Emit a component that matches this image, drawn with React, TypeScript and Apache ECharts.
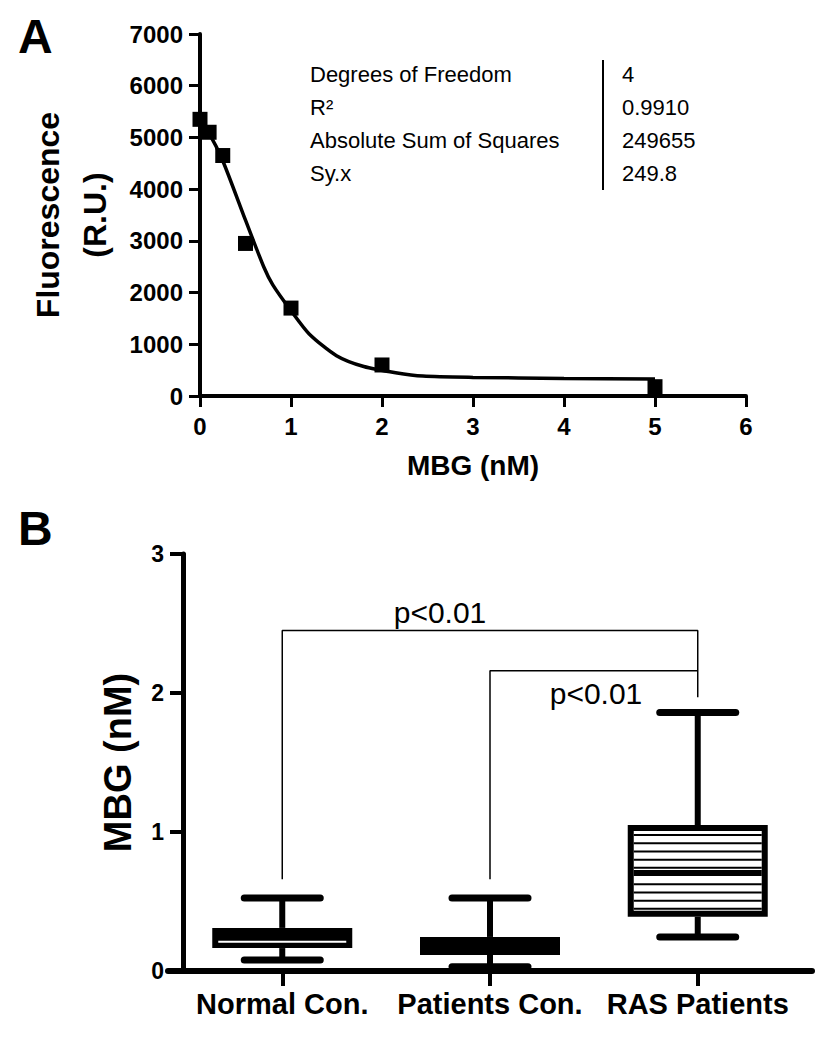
import React, { useEffect, useRef } from "react";
import * as echarts from "echarts";

// ---------- Panel A data ----------
const doseX = [0, 0.1, 0.25, 0.5, 1, 2, 5];
const fluorescence = [5350, 5100, 4650, 2950, 1700, 600, 180];
const fitX = [0, 0.1, 0.25, 0.5, 0.7, 0.8, 1.0, 1.2, 1.5, 1.8, 2.15, 2.45, 3.0, 4.0, 5.0];
const fitY = [5300, 5080, 4550, 3400, 2500, 2150, 1650, 1200, 780, 570, 450, 385, 360, 340, 330];
const statLabels = ["Degrees of Freedom", "R\u00B2", "Absolute Sum of Squares", "Sy.x"];
const statValues = ["4", "0.9910", "249655", "249.8"];

// ---------- Panel B data ----------
const groups = ["Normal Con.", "Patients Con.", "RAS Patients"];
const boxMin = [0.08, 0.03, 0.245];
const boxQ1 = [0.165, 0.115, 0.39];
const boxMedian = [0.21, 0.17, 0.705];
const boxQ3 = [0.31, 0.245, 1.05];
const boxMax = [0.525, 0.525, 1.86];
const bracket1X = [0, 0, 2, 2];
const bracket1Y = [0.66, 2.45, 2.45, 1.97];
const bracket2X = [1, 1, 2];
const bracket2Y = [0.66, 2.16, 2.16];
const pLabel = "p<0.01";

const BOX_KINDS = ["solidMedian", "solid", "hatched"];
const FONT = '"Liberation Sans", Arial, Helvetica, sans-serif';

export default function App() {
  const ref = useRef<HTMLDivElement>(null);

  useEffect(() => {
    if (!ref.current) return;
    const chart = echarts.init(ref.current, undefined, { renderer: "svg" });

    const BOX_W = 140;
    const CAP_W = 76;

    const boxData = groups.map((_, i) => [i, boxMin[i], boxQ1[i], boxMedian[i], boxQ3[i], boxMax[i]]);

    const renderBox = (params: any, api: any) => {
      const x = api.value(0);
      const cx = api.coord([x, api.value(1)])[0];
      const yMin = api.coord([x, api.value(1)])[1];
      const yQ1 = api.coord([x, api.value(2)])[1];
      const yMed = api.coord([x, api.value(3)])[1];
      const yQ3 = api.coord([x, api.value(4)])[1];
      const yMax = api.coord([x, api.value(5)])[1];
      const kind = BOX_KINDS[params.dataIndex];
      const half = BOX_W / 2;
      const capHalf = CAP_W / 2;
      const children: any[] = [];
      const blk = { stroke: "#000", lineWidth: 6 };
      children.push({ type: "line", shape: { x1: cx, y1: yMax, x2: cx, y2: yQ3 }, style: blk });
      children.push({ type: "line", shape: { x1: cx, y1: yQ1, x2: cx, y2: yMin }, style: blk });
      children.push({
        type: "line",
        shape: { x1: cx - capHalf, y1: yMax, x2: cx + capHalf, y2: yMax },
        style: { stroke: "#000", lineWidth: 7, lineCap: "round" },
      });
      children.push({
        type: "line",
        shape: { x1: cx - capHalf, y1: yMin, x2: cx + capHalf, y2: yMin },
        style: { stroke: "#000", lineWidth: 7, lineCap: "round" },
      });
      if (kind === "hatched") {
        children.push({
          type: "rect",
          shape: { x: cx - half + 3, y: yQ3 + 3, width: BOX_W - 6, height: yQ1 - yQ3 - 6 },
          style: { fill: "#fff", stroke: "#000", lineWidth: 6 },
        });
        for (let y = yQ3 + 10; y < yQ1 - 7; y += 8.2) {
          if (Math.abs(y - yMed) < 5) continue;
          children.push({
            type: "line",
            shape: { x1: cx - half + 6, y1: y, x2: cx + half - 6, y2: y },
            style: { stroke: "#000", lineWidth: 2 },
          });
        }
        children.push({
          type: "line",
          shape: { x1: cx - half + 6, y1: yMed, x2: cx + half - 6, y2: yMed },
          style: { stroke: "#000", lineWidth: 6 },
        });
      } else {
        children.push({
          type: "rect",
          shape: { x: cx - half, y: yQ3, width: BOX_W, height: yQ1 - yQ3 },
          style: { fill: "#000" },
        });
        if (kind === "solidMedian") {
          children.push({
            type: "line",
            shape: { x1: cx - half + 6, y1: yMed, x2: cx + half - 6, y2: yMed },
            style: { stroke: "#fff", lineWidth: 2 },
          });
        }
      }
      return { type: "group", children };
    };

    const option: any = {
      animation: false,
      backgroundColor: "#fff",
      grid: [
        { left: 200, top: 34, width: 546, height: 362 },
        { left: 168, top: 554, width: 644, height: 417 },
      ],
      xAxis: [
        {
          type: "value",
          gridIndex: 0,
          min: 0,
          max: 6,
          interval: 1,
          name: "MBG (nM)",
          nameLocation: "middle",
          nameGap: 55,
          nameTextStyle: { fontFamily: FONT, fontWeight: "bold", fontSize: 28, color: "#000" },
          axisLine: { show: true, onZero: false, lineStyle: { color: "#000", width: 4 } },
          axisTick: { show: true, length: 11, lineStyle: { color: "#000", width: 3 } },
          axisLabel: { margin: 18, fontFamily: FONT, fontWeight: "bold", fontSize: 24, color: "#000" },
          splitLine: { show: false },
        },
        {
          type: "value",
          gridIndex: 1,
          min: -0.55,
          max: 2.55,
          axisLine: { show: true, onZero: false, lineStyle: { color: "#000", width: 6 } },
          axisTick: { show: true, length: 15, customValues: [0, 1, 2], lineStyle: { color: "#000", width: 4 } },
          axisLabel: {
            margin: 18,
            customValues: [0, 1, 2],
            formatter: (v: number) => groups[Math.round(v)] ?? "",
            fontFamily: FONT,
            fontWeight: "bold",
            fontSize: 29,
            color: "#000",
          },
          splitLine: { show: false },
        },
      ],
      yAxis: [
        {
          type: "value",
          gridIndex: 0,
          min: 0,
          max: 7000,
          interval: 1000,
          name: "Fluorescence\n(R.U.)",
          nameLocation: "middle",
          nameRotate: 90,
          nameGap: 71,
          nameTextStyle: { fontFamily: FONT, fontWeight: "bold", fontSize: 32, lineHeight: 47, color: "#000" },
          axisLine: { show: true, onZero: false, lineStyle: { color: "#000", width: 4 } },
          axisTick: { show: true, length: 11, lineStyle: { color: "#000", width: 3 } },
          axisLabel: {
            margin: 17,
            formatter: (v: number) => String(v),
            fontFamily: FONT,
            fontWeight: "bold",
            fontSize: 24,
            color: "#000",
          },
          splitLine: { show: false },
        },
        {
          type: "value",
          gridIndex: 1,
          min: 0,
          max: 3,
          interval: 1,
          offset: -15,
          name: "MBG (nM)",
          nameLocation: "middle",
          nameRotate: 90,
          nameGap: 46,
          nameTextStyle: { fontFamily: FONT, fontWeight: "bold", fontSize: 38, color: "#000" },
          axisLine: { show: true, onZero: false, lineStyle: { color: "#000", width: 5 } },
          axisTick: { show: true, length: 13, lineStyle: { color: "#000", width: 4 } },
          axisLabel: {
            margin: 19,
            fontFamily: '"Liberation Sans Narrow", "Liberation Sans", Arial, sans-serif',
            fontWeight: "bold",
            fontSize: 23,
            color: "#000",
          },
          splitLine: { show: false },
        },
      ],
      series: [
        {
          type: "line",
          xAxisIndex: 0,
          yAxisIndex: 0,
          data: fitX.map((x, i) => [x, fitY[i]]),
          showSymbol: false,
          symbol: "none",
          smooth: 0.25,
          lineStyle: { color: "#000", width: 3.5 },
          z: 3,
        },
        {
          type: "scatter",
          xAxisIndex: 0,
          yAxisIndex: 0,
          data: doseX.map((x, i) => [x, fluorescence[i]]),
          symbol: "rect",
          symbolSize: 15,
          itemStyle: { color: "#000", opacity: 1 },
          z: 4,
        },
        {
          type: "line",
          xAxisIndex: 1,
          yAxisIndex: 1,
          data: bracket1X.map((x, i) => [x, bracket1Y[i]]),
          symbol: "none",
          lineStyle: { color: "#000", width: 1.5 },
          z: 2,
        },
        {
          type: "line",
          xAxisIndex: 1,
          yAxisIndex: 1,
          data: bracket2X.map((x, i) => [x, bracket2Y[i]]),
          symbol: "none",
          lineStyle: { color: "#000", width: 1.5 },
          z: 2,
        },
        {
          type: "custom",
          xAxisIndex: 1,
          yAxisIndex: 1,
          data: boxData,
          encode: { x: 0, y: [1, 2, 3, 4, 5] },
          renderItem: renderBox,
          z: 5,
        },
      ],
      graphic: [
        { type: "text", x: 18, y: 36, style: { text: "A", font: `bold 48px ${FONT}`, fill: "#000", textVerticalAlign: "middle" } },
        { type: "text", x: 18, y: 528, style: { text: "B", font: `bold 48px ${FONT}`, fill: "#000", textVerticalAlign: "middle" } },
        ...statLabels.map((t, i) => ({
          type: "text",
          x: 310,
          y: 74 + i * 33,
          style: { text: t, font: `22px ${FONT}`, fill: "#000", textVerticalAlign: "middle" },
        })),
        ...statValues.map((t, i) => ({
          type: "text",
          x: 622,
          y: 74 + i * 33,
          style: { text: t, font: `22px ${FONT}`, fill: "#000", textVerticalAlign: "middle" },
        })),
        { type: "line", shape: { x1: 603, y1: 60, x2: 603, y2: 190 }, style: { stroke: "#000", lineWidth: 2 } },
        {
          type: "text",
          x: 440,
          y: 612,
          style: { text: pLabel, font: `30px ${FONT}`, fill: "#000", textAlign: "center", textVerticalAlign: "middle" },
        },
        {
          type: "text",
          x: 596,
          y: 693,
          style: { text: pLabel, font: `30px ${FONT}`, fill: "#000", textAlign: "center", textVerticalAlign: "middle" },
        },
      ],
    };

    chart.setOption(option);
    return () => chart.dispose();
  }, []);

  return (
    <div
      ref={ref}
      style={{ position: "fixed", left: 0, top: 0, width: 821, height: 1050, background: "#fff" }}
    />
  );
}
